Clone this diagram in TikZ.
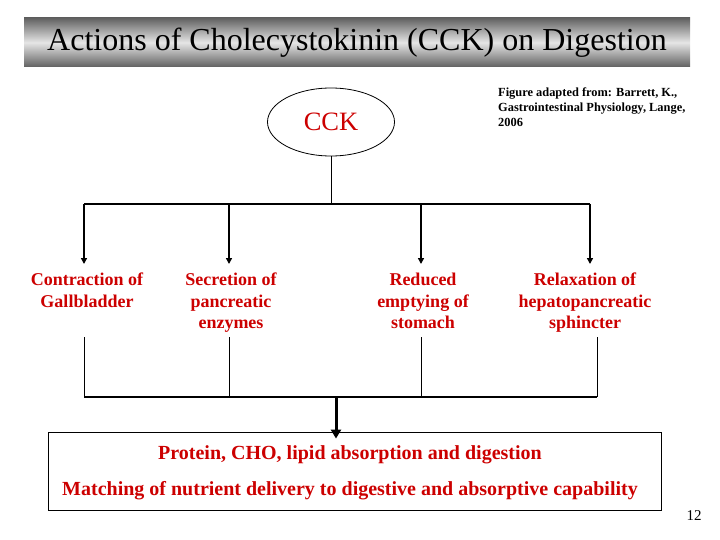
\documentclass[tikz,border=0pt]{standalone}
\usepackage{fontspec}
\setmainfont{Liberation Serif}
\usetikzlibrary{shapes.geometric,arrows.meta}
\definecolor{cckred}{RGB}{204,0,0}
\begin{document}
\begin{tikzpicture}[x=1pt,y=-1pt,
  lbl/.style={text=cckred,font=\bfseries\fontsize{18}{21.5}\selectfont,align=center,anchor=north,inner sep=0pt},
  boxtxt/.style={text=cckred,font=\bfseries\fontsize{20}{24}\selectfont,inner sep=0pt},
  thinln/.style={line width=0.8pt},
  arr/.style={line width=1.5pt,-{Triangle[length=6pt,width=6pt]}},
]
\useasboundingbox (0,0) rectangle (720,540);
% title bar
\shade[top color=black!62,bottom color=black!62,middle color=black!10] (24,18) rectangle (690,67);
\node (title) at (357,43) {\fontsize{32}{36}\selectfont Actions of Cholecystokinin (CCK) on Digestion};
% CCK ellipse
\node[ellipse,draw,thinln,minimum width=127pt,minimum height=68pt,text=cckred,font=\fontsize{26.5}{30}\selectfont] (cck) at (331,122) {CCK};
% citation
\node[anchor=north west,align=left,inner sep=0pt,font=\bfseries\fontsize{12.4}{15}\selectfont] (cite) at (498,88)
  {Figure adapted from: Barrett, K.,\\Gastrointestinal Physiology, Lange,\\2006};
% labels
\node[lbl] (l1) at (87,273) {Contraction of\\Gallbladder};
\node[lbl] (l2) at (231,273) {Secretion of\\pancreatic\\enzymes};
\node[lbl] (l3) at (423,273) {Reduced\\emptying of\\stomach};
\node[lbl] (l4) at (585,273) {Relaxation of\\hepatopancreatic\\sphincter};
% bus coordinates
\coordinate (b0) at (330,204);
\coordinate (t1) at (84,204);
\coordinate (t2) at (229,204);
\coordinate (t3) at (421,204);
\coordinate (t4) at (590,204);
\coordinate (e1) at (84,264);
\coordinate (e2) at (229,264);
\coordinate (e3) at (421,264);
\coordinate (e4) at (590,264);
\draw[thinln] (cck.south) -- (cck.south |- b0);
\draw[line width=1.5pt] (t1) -- (t4);
\foreach \i in {1,...,4}{\draw[arr] (t\i) -- (e\i);}
% lower bus
\coordinate (u1) at (84,337);
\coordinate (u2) at (229,337);
\coordinate (u3) at (421,337);
\coordinate (u4) at (597,337);
\coordinate (d1) at (84,397);
\coordinate (d2) at (229,397);
\coordinate (d3) at (421,397);
\coordinate (d4) at (597,397);
\foreach \i in {1,...,4}{\draw[thinln] (u\i) -- (d\i);}
\draw[line width=1.2pt] (d1) -- (d4);
\coordinate (m) at (336,397);
% result box
\node[draw,line width=0.8pt,minimum width=613pt,minimum height=78pt,inner sep=0pt] (box) at (354.5,471) {};
\node[boxtxt] (p1) at (350,455) {Protein, CHO, lipid absorption and digestion};
\node[boxtxt] (p2) at (350,491) {Matching of nutrient delivery to digestive and absorptive capability};
\draw[line width=3pt,-{Triangle[length=9pt,width=10pt]}] (m) -- ([yshift=-7pt]box.north -| m);
% page number
\node[font=\fontsize{15}{17}\selectfont] (page) at (694,516) {12};
\end{tikzpicture}
\end{document}
